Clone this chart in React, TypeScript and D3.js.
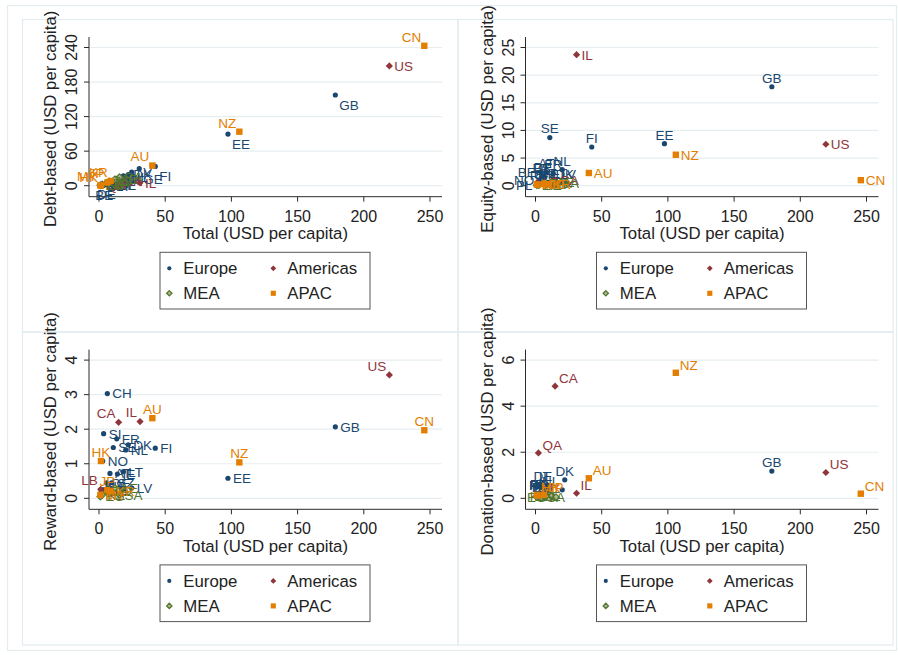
import React from "react";
import * as d3 from "d3";

// ---- data ----
const codes = ["GB","EE","FI","GE","LV","DK","NL","LT","IE","FR","SE","CZ","AT","IT","CH","DE","ES","BE","SI","NO","PT","PL",
  "US","IL","CA","QA","LB",
  "AE","SA","JO","ZA","KE","EG",
  "CN","NZ","AU","KR","JP","HK","MY"];
const regions = ["Europe","Europe","Europe","Europe","Europe","Europe","Europe","Europe","Europe","Europe","Europe","Europe","Europe","Europe","Europe","Europe","Europe","Europe","Europe","Europe","Europe","Europe",
  "Americas","Americas","Americas","Americas","Americas",
  "MEA","MEA","MEA","MEA","MEA","MEA",
  "APAC","APAC","APAC","APAC","APAC","APAC","APAC"];
const totals = [178.5,97.4,42.5,30.4,24.7,22.1,20.2,18.4,13.9,13.4,10.8,9.5,8.3,7.0,6.3,5.6,4.5,4.0,3.5,2.8,2.2,1.5,
  219.3,31.0,14.8,2.2,1.3,
  12.0,15.5,8.0,6.0,2.5,1.0,
  245.7,106,40.3,8.8,6.3,1.5,1.0];
const debtVals = [157.5,89.6,33.5,29.6,23.8,19.3,15.5,17.0,12.8,9.3,0.4,8.2,4.8,4.9,2.4,2.8,2.2,1.2,1.0,0.6,1.2,1.0,
  208,5.0,7.5,0.2,0.3,
  11.0,14.8,7.4,5.3,2.2,0.8,
  243,93.8,35,8.2,5.6,0.1,0.6];
const equityVals = [17.9,7.6,7.0,null,0.4,0.5,2.9,0.6,0.4,2.2,8.7,0.6,2.4,1.5,0.4,1.8,1.6,2.5,0.5,1.0,0.3,0.1,
  7.5,23.7,1.0,null,0.6,
  0.6,0.5,0.3,0.4,0.1,0.1,
  1.0,5.6,2.3,0.3,0.3,0.2,0.2];
const rewardVals = [2.07,0.58,1.45,null,0.3,1.55,1.40,0.77,0.70,1.72,1.47,0.45,0.72,0.35,3.03,0.45,0.2,0.25,1.87,1.08,0.2,0.25,
  3.57,2.22,2.2,null,0.26,
  0.3,0.1,0.2,0.2,0.1,0.05,
  1.97,1.04,2.32,0.2,0.24,1.08,0.1];
const donationVals = [1.18,null,null,null,null,0.8,0.37,null,null,null,null,null,0.45,0.55,0.45,0.55,0.5,0.5,0.6,0.55,0.6,0.55,
  1.12,0.22,4.87,1.97,null,
  0.1,0.05,0.08,0.1,0.1,0.05,
  0.2,5.45,0.87,null,0.15,0.12,0.15];

// label clock positions per panel (0 = centred on the marker)
const posDebt = [4,4,4,4,3,3,3,6,3,3,3,3,3,3,3,6,3,6,3,3,3,3, 3,3,3,3,3, 3,3,3,3,3,3, 11,11,11,11,11,11,11];
const posEquity = [12,12,12,12,12,12,12,12,12,12,12,12,12,12,12,12,12,9,12,9,12,9, 3,3,3,3,3, 3,3,3,3,3,3, 3,3,3,3,3,3,3];
const posReward = [3,3,3,3,3,3,3,3,3,3,3,3,3,3,3,3,3,3,3,3,3,3, 11,11,11,3,11, 3,3,3,3,3,3, 12,12,12,3,12,12,3];
const posDonation = [12,12,12,12,12,12,11,12,12,12,12,12,0,12,0,12,0,0,0,0,0,0, 2,2,2,2,2, 0,0,0,0,0,0, 2,2,2,2,2,2,2];

const ticksDebt = [0,60,120,180,240];
const ticksEquity = [0,5,10,15,20,25];
const ticksReward = [0,1,2,3,4];
const ticksDonation = [0,2,4,6];
const xTicks = [0,50,100,150,200,250];

const legendNames = ["Europe","Americas","MEA","APAC"];
const colors: Record<string,string> = { Europe: "#1a476f", Americas: "#90353b", MEA: "#55752f", APAC: "#e37e00" };

const FONT = "'Liberation Sans', Arial, Helvetica, sans-serif";
const GRID = "#e6eef1";
const FRAME = "#e3ecef";

const panels = [
  { vals: debtVals, pos: posDebt, ticks: ticksDebt, title: "Debt-based (USD per capita)", ox: 0, oy: 0 },
  { vals: equityVals, pos: posEquity, ticks: ticksEquity, title: "Equity-based (USD per capita)", ox: 436.5, oy: 0 },
  { vals: rewardVals, pos: posReward, ticks: ticksReward, title: "Reward-based (USD per capita)", ox: 0, oy: 312.6 },
  { vals: donationVals, pos: posDonation, ticks: ticksDonation, title: "Donation-based (USD per capita)", ox: 436.5, oy: 312.6 },
];

function Marker({ region, x, y, scale = 1 }: { region: string; x: number; y: number; scale?: number }) {
  const c = colors[region];
  if (region === "Europe") return <circle cx={x} cy={y} r={2.6 * scale} fill={c} />;
  if (region === "Americas") {
    const s = 3.6 * scale;
    return <path d={`M${x},${y - s}L${x + s},${y}L${x},${y + s}L${x - s},${y}Z`} fill={c} />;
  }
  if (region === "MEA") {
    const s = 3.3 * scale;
    return <path d={`M${x},${y - s}L${x + s},${y}L${x},${y + s}L${x - s},${y}Z`} fill="#a9bb8f" stroke={c} strokeWidth={1.3} />;
  }
  const h = 3.2 * scale;
  return <rect x={x - h} y={y - h} width={2 * h} height={2 * h} fill={c} />;
}

function labelProps(pos: number, x: number, y: number) {
  switch (pos) {
    case 0: return { x, y, anchor: "middle" };
    case 12: return { x, y: y - 9, anchor: "middle" };
    case 11: return { x: x - 3, y: y - 9, anchor: "end" };
    case 2: return { x: x + 4, y: y - 8, anchor: "start" };
    case 4: return { x: x + 4, y: y + 10, anchor: "start" };
    case 6: return { x, y: y + 10, anchor: "middle" };
    case 9: return { x: x - 5, y, anchor: "end" };
    default: return { x: x + 5, y, anchor: "start" };
  }
}

function Panel({ p }: { p: typeof panels[number] }) {
  const left = 89, right = 442, top = 37, bottom = 196.7;
  const xs = d3.scaleLinear().domain([0, 250]).range([99, 430]);
  const ys = d3.scaleLinear().domain([0, p.ticks[p.ticks.length - 1]]).range([185.7, 47.5]);
  const order = ["Europe", "Americas", "MEA", "APAC"];
  const pts = order.flatMap((r) =>
    codes.map((c, i) => ({ c, i, r: regions[i], x: totals[i], y: p.vals[i] as number | null }))
      .filter((d) => d.r === r && d.y !== null && d.y !== undefined)
  );
  return (
    <g transform={`translate(${p.ox},${p.oy})`}>
      {p.ticks.map((t) => (
        <line key={"g" + t} x1={left} x2={right} y1={ys(t)} y2={ys(t)} stroke={GRID} strokeWidth={1.2} />
      ))}
      <line x1={left} x2={left} y1={top} y2={bottom} stroke="#2a2a2a" strokeWidth={1} />
      <line x1={left} x2={right} y1={bottom} y2={bottom} stroke="#2a2a2a" strokeWidth={1} />
      {p.ticks.map((t) => (
        <g key={"t" + t}>
          <line x1={left - 5} x2={left} y1={ys(t)} y2={ys(t)} stroke="#2a2a2a" />
          <text transform={`translate(${left - 12},${ys(t)}) rotate(-90)`} textAnchor="middle" fontSize={16} fontFamily={FONT} fill="#222">{t}</text>
        </g>
      ))}
      {xTicks.map((t) => (
        <g key={"x" + t}>
          <line x1={xs(t)} x2={xs(t)} y1={bottom} y2={bottom + 5} stroke="#2a2a2a" />
          <text x={xs(t)} y={bottom + 25} textAnchor="middle" fontSize={16} fontFamily={FONT} fill="#222">{t}</text>
        </g>
      ))}
      <text x={(left + right) / 2} y={239} textAnchor="middle" fontSize={16.8} fontFamily={FONT} fill="#222">Total (USD per capita)</text>
      <text transform={`translate(56,${(top + bottom) / 2 + 2}) rotate(-90)`} textAnchor="middle" fontSize={16.8} fontFamily={FONT} fill="#222">{p.title}</text>
      {pts.map((d) => {
        const px = xs(d.x), py = ys(d.y as number);
        const lp = labelProps(p.pos[d.i], px, py);
        return (
          <g key={d.c}>
            <Marker region={d.r} x={px} y={py} />
            <text x={lp.x} y={lp.y} dy="0.36em" textAnchor={lp.anchor as any} fontSize={13.5} fontFamily={FONT} fill={colors[d.r]}>{d.c}</text>
          </g>
        );
      })}
      <rect x={160} y={252.3} width={210} height={56.7} fill="white" stroke="#555" strokeWidth={1} />
      {legendNames.map((n, k) => {
        const lx = k % 2 === 0 ? 169.3 : 273.3;
        const ly = k < 2 ? 268.3 : 293.3;
        return (
          <g key={n}>
            <Marker region={n} x={lx} y={ly} scale={0.8} />
            <text x={lx + 14} y={ly} dy="0.36em" fontSize={16.8} fontFamily={FONT} fill="#222">{n}</text>
          </g>
        );
      })}
    </g>
  );
}

export default function App() {
  return (
    <svg width={898} height={655} style={{ position: "absolute", left: 0, top: 0, background: "white" }}>
      <rect x={7.5} y={5.5} width={889} height={645} fill="white" stroke={FRAME} strokeWidth={1.2} />
      <rect x={22.5} y={19.5} width={435.5} height={312.5} fill="none" stroke={FRAME} strokeWidth={1.2} />
      <rect x={458} y={19.5} width={435} height={312.5} fill="none" stroke={FRAME} strokeWidth={1.2} />
      <rect x={22.5} y={332} width={435.5} height={313} fill="none" stroke={FRAME} strokeWidth={1.2} />
      <rect x={458} y={332} width={435} height={313} fill="none" stroke={FRAME} strokeWidth={1.2} />
      {panels.map((p, i) => <Panel key={i} p={p} />)}
    </svg>
  );
}
